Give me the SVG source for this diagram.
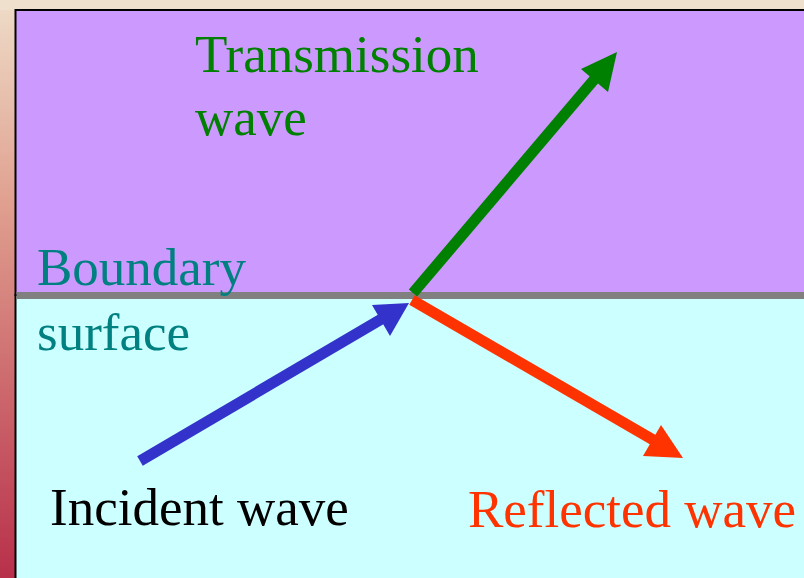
<svg xmlns="http://www.w3.org/2000/svg" width="804" height="578" viewBox="0 0 804 578">
<defs>
<linearGradient id="bg" x1="0" y1="0" x2="0" y2="1">
<stop offset="0" stop-color="#EEDCC8"/>
<stop offset="0.35" stop-color="#E0A090"/>
<stop offset="1" stop-color="#B8304A"/>
</linearGradient>
<style>
text{font-family:"Liberation Serif","Times New Roman",serif;font-size:53px}
.shaft{stroke-width:11;fill:none}
</style>
</defs>
<rect x="0" y="0" width="804" height="578" fill="url(#bg)"/>
<rect x="0" y="0" width="804" height="10" fill="#EEE0CC"/>
<g id="media">
<rect x="15.5" y="10" width="790" height="285" fill="#CC99FF" stroke="#000" stroke-width="2"/>
<rect x="15.5" y="295" width="790" height="285" fill="#CCFFFF" stroke="#000" stroke-width="2"/>
<rect x="16.5" y="292" width="790" height="7" fill="#808080"/>
</g>
<g id="connectors">
<line class="shaft" x1="413" y1="293" x2="598" y2="75" stroke="#008000"/>
<polygon points="617,52 581,69 608,92" fill="#008000"/>
<line class="shaft" x1="412" y1="300" x2="662" y2="445" stroke="#FF3300"/>
<polygon points="683,458 661,425 643,456" fill="#FF3300"/>
<line class="shaft" x1="140" y1="461" x2="390" y2="314" stroke="#3333CC"/>
<polygon points="409,303 372,305 390,336" fill="#3333CC"/>
</g>
<g id="labels">
<text x="195" y="72" fill="#008000">Transmission</text>
<text x="195" y="135" fill="#008000">wave</text>
<text x="37" y="285" fill="#008080">Boundary</text>
<text x="37" y="350" fill="#008080">surface</text>
<text x="50" y="525" fill="#000">Incident wave</text>
<text x="468" y="527" fill="#FF3300">Reflected wave</text>
</g>
</svg>
